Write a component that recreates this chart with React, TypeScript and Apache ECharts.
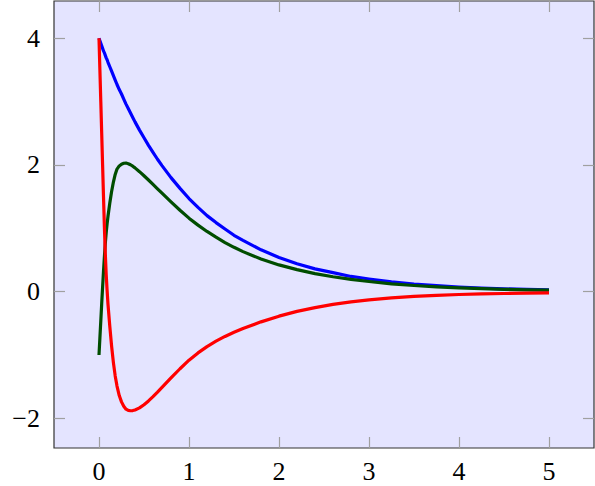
import React, { useEffect, useRef } from "react";
import * as echarts from "echarts";

const xs = [
  0, 0.01, 0.02, 0.03, 0.04, 0.05, 0.06, 0.07, 0.08, 0.09,
  0.1, 0.12, 0.14, 0.16, 0.18, 0.2,
  0.225, 0.25, 0.275, 0.3, 0.325, 0.35, 0.375, 0.4,
  0.45, 0.5, 0.55, 0.6, 0.65, 0.7,
  0.8, 0.9, 1.0, 1.1, 1.2, 1.3, 1.4, 1.5, 1.6,
  1.8, 2.0, 2.2, 2.4, 2.6, 2.8, 3.0,
  3.25, 3.5, 3.75, 4.0, 4.25, 4.5, 4.75, 5.0,
];
const blueValues = [
  4.0, 3.96, 3.92, 3.88, 3.84, 3.8, 3.77, 3.73, 3.69, 3.66,
  3.62, 3.55, 3.48, 3.41, 3.34, 3.27,
  3.19, 3.12, 3.04, 2.96, 2.89, 2.82, 2.75, 2.68,
  2.55, 2.43, 2.31, 2.2, 2.09, 1.99,
  1.8, 1.63, 1.47, 1.33, 1.2, 1.09, 0.99, 0.89, 0.81,
  0.66, 0.54, 0.44, 0.36, 0.3, 0.24, 0.2,
  0.155, 0.12, 0.094, 0.073, 0.057, 0.044, 0.035, 0.027,
];
const greenValues = [
  -1.0, -0.73, -0.46, -0.19, 0.07, 0.32, 0.55, 0.76, 0.93, 1.07,
  1.19, 1.4, 1.58, 1.73, 1.85, 1.935,
  1.985, 2.012, 2.027, 2.03, 2.02, 2.003, 1.98, 1.954,
  1.894, 1.83, 1.763, 1.694, 1.624, 1.554,
  1.417, 1.285, 1.16, 1.05, 0.95, 0.86, 0.775, 0.7, 0.632,
  0.515, 0.422, 0.347, 0.285, 0.235, 0.194, 0.16,
  0.124, 0.097, 0.076, 0.06, 0.047, 0.037, 0.029, 0.023,
];
const redValues = [
  4.0, 3.5, 3.0, 2.5, 2.0, 1.5, 1.02, 0.6, 0.27, 0.02,
  -0.2, -0.55, -0.86, -1.12, -1.33, -1.49,
  -1.64, -1.74, -1.81, -1.855, -1.875, -1.88, -1.877, -1.867,
  -1.835, -1.785, -1.725, -1.658, -1.587, -1.512,
  -1.362, -1.217, -1.082, -0.967, -0.867, -0.782, -0.707, -0.642, -0.582,
  -0.477, -0.387, -0.312, -0.252, -0.202, -0.162, -0.129,
  -0.099, -0.076, -0.058, -0.045, -0.036, -0.029, -0.023, -0.018,
];

const xTicks = [0, 1, 2, 3, 4, 5];
const yTicks = [-2, 0, 2, 4];
const xRange = [-0.5, 5.5];
const yRange = [-2.468, 4.588];

const FONT = "Liberation Serif";
const TICK = { show: true, inside: true, length: 11, lineStyle: { color: "#a0a0a0", width: 1.2 } };
const fmt = (v: number) => (v < 0 ? "\u2212" + Math.abs(v) : String(v));

export default function App() {
  const ref = useRef<HTMLDivElement>(null);
  useEffect(() => {
    if (!ref.current) return;
    const chart = echarts.init(ref.current, null, { renderer: "svg" });
    const mk = (vals: number[]) => xs.map((x, i) => [x, vals[i]]);
    const line = (name: string, vals: number[], color: string) => ({
      name,
      type: "line",
      data: mk(vals),
      showSymbol: false,
      symbol: "none",
      smooth: false,
      lineStyle: { color, width: 3.2, join: "round" },
      itemStyle: { color },
      z: 3,
    });
    const labelStyle = { fontFamily: FONT, fontSize: 26, color: "#000" };
    const xBase = (pos: string, labels: boolean) => ({
      type: "value",
      position: pos,
      min: xRange[0],
      max: xRange[1],
      axisLine: { show: false, onZero: false },
      splitLine: { show: false },
      axisTick: { ...TICK, customValues: xTicks },
      axisLabel: labels
        ? { show: true, customValues: xTicks, formatter: fmt, ...labelStyle, margin: 10 }
        : { show: false },
    });
    const yBase = (pos: string, labels: boolean) => ({
      type: "value",
      position: pos,
      min: yRange[0],
      max: yRange[1],
      axisLine: { show: false, onZero: false },
      splitLine: { show: false },
      axisTick: { ...TICK, customValues: yTicks },
      axisLabel: labels
        ? { show: true, customValues: yTicks, formatter: fmt, ...labelStyle, margin: 14 }
        : { show: false },
    });
    chart.setOption({
      animation: false,
      textStyle: { fontFamily: FONT, fontSize: 26 },
      grid: {
        left: 54,
        right: 1,
        top: 1,
        bottom: 38,
        show: true,
        backgroundColor: "#e4e4ff",
        borderColor: "#333333",
        borderWidth: 1.2,
      },
      xAxis: [xBase("bottom", true), xBase("top", false)],
      yAxis: [yBase("left", true), yBase("right", false)],
      series: [
        line("blue", blueValues, "#0000ff"),
        line("green", greenValues, "#004d00"),
        line("red", redValues, "#ff0000"),
      ],
    });
    return () => chart.dispose();
  }, []);
  return (
    <div
      ref={ref}
      style={{ position: "absolute", left: 0, top: 0, width: 595, height: 486, background: "#fff" }}
    />
  );
}
